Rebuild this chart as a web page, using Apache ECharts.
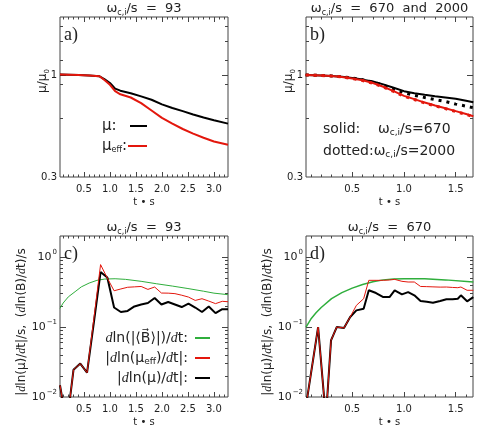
<!DOCTYPE html>
<html>
<head>
<meta charset="utf-8">
<script src="https://cdn.jsdelivr.net/npm/echarts@6/dist/echarts.min.js"></script>
<style>
  html, body { margin: 0; padding: 0; background: #fff; }
  #main { width: 491px; height: 435px; }
</style>
</head>
<body>
<div id="main"></div>
<script>
// a) mu / mu0, omega_ci/s = 93
const tA = [0.04, 0.2, 0.4, 0.6, 0.8, 0.9, 1.0, 1.1, 1.2, 1.4, 1.6, 1.8, 2.0, 2.2, 2.4, 2.6, 2.8, 3.0, 3.27]
const muA = [1.01, 1.008, 1.005, 1.0, 0.99, 0.955, 0.915, 0.855, 0.835, 0.81, 0.78, 0.75, 0.71, 0.68, 0.655, 0.63, 0.608, 0.588, 0.565]
const muEffA = [1.01, 1.008, 1.005, 1.0, 0.99, 0.945, 0.895, 0.83, 0.8, 0.77, 0.72, 0.66, 0.605, 0.565, 0.53, 0.502, 0.478, 0.457, 0.44]

// b) mu / mu0, omega_ci/s = 670 (solid) and 2000 (dotted)
const tB = [0.05, 0.2, 0.3, 0.4, 0.5, 0.6, 0.7, 0.8, 0.9, 1.0, 1.1, 1.2, 1.3, 1.4, 1.5, 1.6, 1.67]
const mu670 = [1.005, 1.0, 0.995, 0.985, 0.97, 0.952, 0.93, 0.9, 0.865, 0.83, 0.81, 0.795, 0.782, 0.77, 0.758, 0.74, 0.727]
const mu2000 = [1.005, 1.0, 0.995, 0.985, 0.97, 0.95, 0.925, 0.89, 0.85, 0.815, 0.79, 0.77, 0.752, 0.735, 0.712, 0.695, 0.682]
const muEff670 = [1.005, 1.0, 0.993, 0.983, 0.965, 0.945, 0.915, 0.875, 0.83, 0.785, 0.755, 0.725, 0.7, 0.678, 0.655, 0.633, 0.616]
const muEff2000 = [1.005, 1.0, 0.993, 0.983, 0.963, 0.942, 0.912, 0.872, 0.827, 0.782, 0.752, 0.722, 0.697, 0.675, 0.652, 0.63, 0.613]

// c) rates, omega_ci/s = 93
const tC = [0.04, 0.17, 0.30, 0.43, 0.56, 0.69, 0.82, 0.95, 1.08, 1.21, 1.34, 1.47, 1.60, 1.73, 1.86, 1.99, 2.12, 2.25, 2.38, 2.51, 2.64, 2.77, 2.90, 3.03, 3.16, 3.27]
const dMuC = [0.0147, 0.004, 0.0246, 0.030, 0.0223, 0.115, 0.61, 0.51, 0.19, 0.164, 0.17, 0.197, 0.21, 0.22, 0.26, 0.21, 0.228, 0.21, 0.193, 0.216, 0.19, 0.164, 0.197, 0.158, 0.18, 0.18]
const dMuEffC = [0.0147, 0.004, 0.0246, 0.030, 0.0223, 0.13, 0.78, 0.5, 0.33, 0.35, 0.37, 0.375, 0.38, 0.345, 0.373, 0.306, 0.305, 0.3, 0.285, 0.268, 0.24, 0.254, 0.235, 0.216, 0.233, 0.23]
const tGC = [0.04, 0.1, 0.2, 0.33, 0.45, 0.6, 0.75, 0.9, 1.1, 1.3, 1.6, 1.9, 2.2, 2.5, 2.8, 3.0, 3.27]
const dBC = [0.185, 0.22, 0.27, 0.32, 0.375, 0.425, 0.465, 0.485, 0.49, 0.48, 0.45, 0.415, 0.385, 0.355, 0.325, 0.305, 0.29]

// d) rates, omega_ci/s = 670
const tD = [0.05, 0.17, 0.245, 0.295, 0.35, 0.42, 0.48, 0.54, 0.61, 0.66, 0.73, 0.80, 0.86, 0.91, 0.98, 1.04, 1.10, 1.16, 1.22, 1.28, 1.35, 1.41, 1.47, 1.52, 1.55, 1.61, 1.67]
const dMuD = [0.007, 0.1, 0.005, 0.0645, 0.1, 0.097, 0.139, 0.173, 0.183, 0.335, 0.306, 0.268, 0.268, 0.335, 0.293, 0.316, 0.284, 0.235, 0.23, 0.223, 0.235, 0.249, 0.25, 0.254, 0.284, 0.233, 0.268]
const dMuEffD = [0.007, 0.1, 0.005, 0.0645, 0.1, 0.097, 0.139, 0.204, 0.254, 0.465, 0.465, 0.465, 0.47, 0.48, 0.45, 0.44, 0.44, 0.38, 0.378, 0.375, 0.372, 0.373, 0.368, 0.365, 0.373, 0.335, 0.335]
const tGD = [0.053, 0.1, 0.15, 0.2, 0.3, 0.4, 0.5, 0.6, 0.7, 0.8, 0.9, 1.0, 1.2, 1.4, 1.67]
const dBD = [0.1, 0.13, 0.16, 0.19, 0.255, 0.31, 0.36, 0.405, 0.445, 0.472, 0.485, 0.49, 0.488, 0.472, 0.44]

// axis ticks
const xLabelsA = [0.5, 1.0, 1.5, 2.0, 2.5, 3.0]
const xLabelsB = [0.5, 1.0, 1.5]
const yMajorMu = [1]
const yMajorRate = [0.1, 1]

const BLACK = '#000'
const RED = '#e3170d'
const GREEN = '#2fae3c'
const FRAME = '#444'
const TEXT = '#222'
const FONT = '"DejaVu Sans", sans-serif'

const zip = (xs, ys) => xs.map((x, i) => [x, ys[i]])

function minorX(max) {
  const out = []
  for (let k = 1; k * 0.1 <= max + 1e-9; k++) {
    if (k % 5 !== 0) out.push(+(k * 0.1).toFixed(1))
  }
  return out
}
function minorLog(lo, hi) {
  const out = []
  for (let d = lo; d < hi; d *= 10) {
    for (let m = 2; m <= 9; m++) {
      const v = +(m * d).toPrecision(2)
      if (v > lo * 1.0001 && v < hi) out.push(v)
    }
  }
  return out
}

const gridBoxes = [
  { left: 60, top: 17, width: 168, height: 160 },
  { left: 306, top: 17, width: 167, height: 160 },
  { left: 60, top: 236, width: 168, height: 161 },
  { left: 306, top: 236, width: 167, height: 161 },
]
const grids = gridBoxes.map((g) => Object.assign({ show: true, borderColor: FRAME, borderWidth: 1, backgroundColor: 'transparent' }, g))

const xRange = [[0.04, 3.27], [0.053, 1.667], [0.04, 3.27], [0.053, 1.667]]
const yRange = [[0.3, 2], [0.3, 2], [0.01, 2], [0.01, 2]]
const xMajors = [xLabelsA, xLabelsB, xLabelsA, xLabelsB]
const yMajors = [yMajorMu, yMajorMu, yMajorRate, yMajorRate]

// main axes (indices 0..3) carry labels and the data
const xAxes = xRange.map((r, i) => ({
  gridIndex: i,
  type: 'value',
  position: 'bottom',
  min: r[0],
  max: r[1],
  axisLine: { show: false, onZero: false },
  axisTick: { show: true, inside: true, length: 5, customValues: xMajors[i], lineStyle: { color: FRAME, width: 1 } },
  splitLine: { show: false },
  axisLabel: {
    customValues: xMajors[i],
    formatter: (v) => v.toFixed(1),
    fontSize: 10,
    fontFamily: FONT,
    color: TEXT,
    margin: 7,
  },
  name: 't • s',
  nameLocation: 'middle',
  nameGap: 20,
  nameTextStyle: { fontSize: 10, fontFamily: FONT, color: TEXT },
}))

const yAxes = yRange.map((r, i) => ({
  gridIndex: i,
  type: 'log',
  logBase: 10,
  position: 'left',
  min: r[0],
  max: r[1],
  axisLine: { show: false, onZero: false },
  axisTick: { show: false },
  splitLine: { show: false },
  axisLabel: {
    showMaxLabel: false,
    margin: 3,
    fontSize: i < 2 ? 10 : 11,
    fontFamily: FONT,
    color: TEXT,
    formatter: i < 2
      ? (v) => (Math.abs(v - 1) < 1e-6 ? '1' : String(+v.toFixed(2)))
      : (v) => '10{sup|' + Math.round(Math.log10(v)).toString().replace('-', '\u2212') + '}',
    rich: { sup: { fontSize: 7, fontFamily: FONT, color: TEXT, padding: [0, 0, 9, 1] } },
  },
}))

// tick-only axes: inward ticks on all four sides (y ones run in log10 space, same mapping as the log axes)
function tickAxis(i, position, min, max, values, len) {
  return {
    gridIndex: i,
    type: 'value',
    position,
    min,
    max,
    silent: true,
    axisLine: { show: false, onZero: false },
    axisLabel: { show: false },
    splitLine: { show: false },
    axisTick: { show: true, inside: true, length: len, customValues: values, lineStyle: { color: FRAME, width: 1 } },
  }
}
xRange.forEach((r, i) => {
  const minors = minorX(r[1])
  xAxes.push(tickAxis(i, 'bottom', r[0], r[1], minors, 2.5))
  xAxes.push(tickAxis(i, 'top', r[0], r[1], xMajors[i], 5))
  xAxes.push(tickAxis(i, 'top', r[0], r[1], minors, 2.5))
})
yRange.forEach((r, i) => {
  const lo = Math.log10(r[0])
  const hi = Math.log10(r[1])
  const maj = yMajors[i].map((v) => Math.log10(v))
  const mnr = minorLog(r[0], r[1]).map((v) => Math.log10(v))
  yAxes.push(tickAxis(i, 'left', lo, hi, maj, 6))
  yAxes.push(tickAxis(i, 'left', lo, hi, mnr, 3))
  yAxes.push(tickAxis(i, 'right', lo, hi, maj, 6))
  yAxes.push(tickAxis(i, 'right', lo, hi, mnr, 3))
})

function line(i, name, xs, ys, color, width, dash) {
  return {
    type: 'line',
    name,
    xAxisIndex: i,
    yAxisIndex: i,
    data: zip(xs, ys),
    showSymbol: false,
    symbol: 'none',
    clip: true,
    z: 3,
    lineStyle: { color, width, type: dash || 'solid', cap: 'butt' },
  }
}

const series = [
  line(0, 'mu', tA, muA, BLACK, 2),
  line(0, 'mu_eff', tA, muEffA, RED, 2),

  line(1, 'mu 670', tB, mu670, BLACK, 2),
  line(1, 'mu 2000', tB, mu2000, BLACK, 3, [3, 5]),
  line(1, 'mu_eff 670', tB, muEff670, RED, 2),
  line(1, 'mu_eff 2000', tB, muEff2000, RED, 3, [3, 5]),

  line(2, 'dlnB', tGC, dBC, GREEN, 1),
  line(2, 'dlnmu', tC, dMuC, BLACK, 2),
  line(2, 'dlnmu_eff', tC, dMuEffC, RED, 1),

  line(3, 'dlnB', tGD, dBD, GREEN, 1.5),
  line(3, 'dlnmu', tD, dMuD, BLACK, 2),
  line(3, 'dlnmu_eff', tD, dMuEffD, RED, 1),
]

// text helpers
const richBase = {
  w: { fontSize: 13, fontFamily: FONT, fill: TEXT },
  s: { fontSize: 8, fontFamily: FONT, fill: TEXT, padding: [8, 0, 0, 0] },
  i: { fontSize: 13, fontFamily: '"Liberation Serif", serif', fontStyle: 'italic', fill: TEXT },
  m: { fontSize: 15, fontFamily: FONT, fill: TEXT },
}
function rich(scale) {
  const out = {}
  Object.keys(richBase).forEach((k) => {
    out[k] = Object.assign({}, richBase[k], { fontSize: Math.round(richBase[k].fontSize * scale) })
  })
  return out
}
function txt(x, y, text, opts) {
  return {
    type: 'text',
    x,
    y,
    silent: true,
    z: 10,
    rotation: (opts && opts.rotation) || 0,
    style: Object.assign({ text, fill: TEXT, align: 'left', verticalAlign: 'middle', rich: rich(1) }, opts && opts.style),
  }
}
function seg(x1, y1, x2, y2, color, width) {
  return { type: 'line', silent: true, z: 20, shape: { x1, y1, x2, y2 }, style: { stroke: color, lineWidth: width } }
}

const graphic = [
  // panel titles
  txt(144, 9, '{w|ω}{s|c,i}{w|/s  =  93}', { style: { align: 'center' } }),
  txt(389.5, 9, '{w|ω}{s|c,i}{w|/s  =  670  and  2000}', { style: { align: 'center' } }),
  txt(144, 228, '{w|ω}{s|c,i}{w|/s  =  93}', { style: { align: 'center' } }),
  txt(389.5, 228, '{w|ω}{s|c,i}{w|/s  =  670}', { style: { align: 'center' } }),

  // panel letters
  txt(64, 35, 'a)', { style: { font: '18px "Liberation Serif", serif' } }),
  txt(310, 35, 'b)', { style: { font: '18px "Liberation Serif", serif' } }),
  txt(64, 254, 'c)', { style: { font: '18px "Liberation Serif", serif' } }),
  txt(310, 254, 'd)', { style: { font: '18px "Liberation Serif", serif' } }),

  // y axis names
  txt(43, 81, '{w|μ/μ}{s|0}', { rotation: Math.PI / 2, style: { align: 'center', rich: rich(0.9) } }),
  txt(289, 81, '{w|μ/μ}{s|0}', { rotation: Math.PI / 2, style: { align: 'center', rich: rich(0.9) } }),
  txt(22, 322, '{w||}{i|d}{w|ln(μ)/}{i|d}{w|t|/s,  (}{i|d}{w|ln(B)/}{i|d}{w|t)/s}', { rotation: Math.PI / 2, style: { align: 'center', rich: rich(0.9) } }),
  txt(268, 322, '{w||}{i|d}{w|ln(μ)/}{i|d}{w|t|/s,  (}{i|d}{w|ln(B)/}{i|d}{w|t)/s}', { rotation: Math.PI / 2, style: { align: 'center', rich: rich(0.9) } }),

  // legend a
  txt(102, 126, '{m|μ:}', {}),
  txt(102, 146, '{m|μ}{s|eff}{m|:}', {}),
  seg(130, 126, 147, 126, BLACK, 2),
  seg(128, 146, 147, 146, RED, 2),

  // legend b
  txt(323, 129, '{w|solid:    ω}{s|c,i}{w|/s=670}', { style: { rich: rich(1.07) } }),
  txt(323, 151, '{w|dotted:ω}{s|c,i}{w|/s=2000}', { style: { rich: rich(1.07) } }),

  // legend c
  txt(188, 338, '{i|d}{w|ln(|⟨B\u20D7⟩|)/}{i|d}{w|t:}', { style: { align: 'right', rich: rich(1.08) } }),
  txt(188, 358, '{w||}{i|d}{w|ln(μ}{s|eff}{w|)/}{i|d}{w|t|:}', { style: { align: 'right', rich: rich(1.08) } }),
  txt(188, 378, '{w||}{i|d}{w|ln(μ)/}{i|d}{w|t|:}', { style: { align: 'right', rich: rich(1.08) } }),
  seg(195, 338, 210, 338, GREEN, 2),
  seg(195, 358, 210, 358, RED, 2),
  seg(195, 378, 210, 378, BLACK, 2),
]

const chart = echarts.init(document.getElementById('main'), null, { renderer: 'canvas' })
chart.setOption({
  animation: false,
  backgroundColor: '#fff',
  grid: grids,
  xAxis: xAxes,
  yAxis: yAxes,
  series,
  graphic,
})
</script>
</body>
</html>
